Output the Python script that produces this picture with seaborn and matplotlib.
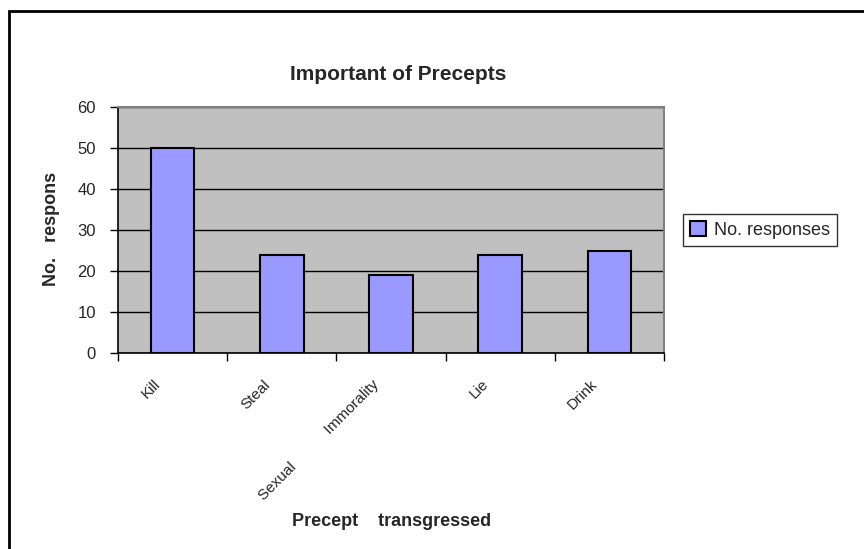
import matplotlib
matplotlib.use('Agg')
import matplotlib.pyplot as plt
import matplotlib.transforms as mtransforms
from matplotlib.patches import Rectangle
import seaborn as sns
import pandas as pd

# Chart data
precepts = ['Kill', 'Steal', 'Sexual           Immorality', 'Lie', 'Drink']
responses = [50, 24, 19, 24, 25]
y_ticks = [0, 10, 20, 30, 40, 50, 60]

df = pd.DataFrame({'Precept': precepts, 'No. responses': responses})

sns.set_style('white')
plt.rcParams['font.family'] = ['Liberation Sans', 'DejaVu Sans']

fig = plt.figure(figsize=(8.64, 5.49), dpi=100)
ax = fig.add_axes([118 / 864, 1 - 353 / 549, (664 - 118) / 864, (353 - 107) / 549])
ax.set_facecolor('#C0C0C0')

sns.barplot(data=df, x='Precept', y='No. responses', color='#9999FF', width=0.4,
            edgecolor='black', linewidth=1.5, saturation=1, ax=ax,
            label='No. responses', zorder=3)

ax.set_xlim(-0.5, 4.5)
ax.set_ylim(0, 60)
ax.set_yticks(y_ticks)
ax.set_yticklabels([str(v) for v in y_ticks], fontsize=12)
ax.yaxis.grid(True, color='black', linewidth=1, zorder=1)
ax.set_axisbelow(True)

# category boundary ticks, labels at centres
ax.set_xticks([i - 0.5 for i in range(len(precepts) + 1)], minor=True)
ax.tick_params(axis='x', which='minor', length=6, width=1, color='black', direction='out', bottom=True)
ax.tick_params(axis='x', which='major', length=0, pad=8)
ax.tick_params(axis='y', length=6, width=1, color='black', direction='out', left=True, pad=10)
ax.set_xticks(range(len(precepts)))
ax.set_xticklabels(precepts, rotation=45, ha='right', va='center', rotation_mode='anchor', fontsize=11)
offset = mtransforms.ScaledTranslation(-0.14, -0.18, fig.dpi_scale_trans)
for lbl in ax.get_xticklabels():
    lbl.set_transform(lbl.get_transform() + offset)

for side in ['left', 'bottom']:
    ax.spines[side].set_color('black')
    ax.spines[side].set_linewidth(1.2)
for side in ['top', 'right']:
    ax.spines[side].set_color('#808080')
    ax.spines[side].set_linewidth(1.5)

ax.set_xlabel('')
ax.set_ylabel('')
fig.text(398 / 864, 1 - 74 / 549, 'Important of Precepts', ha='center', va='center',
         fontsize=15, fontweight='bold')
fig.text(392 / 864, 1 - 521 / 549, 'Precept    transgressed', ha='center', va='center',
         fontsize=13, fontweight='bold')
fig.text(51 / 864, 1 - 229 / 549, 'No.   respons', ha='center', va='center',
         rotation=90, fontsize=13, fontweight='bold')

leg = ax.legend(loc='upper left', bbox_to_anchor=(683 / 864, 1 - 214 / 549),
                bbox_transform=fig.transFigure, frameon=True, fancybox=False,
                fontsize=13, handlelength=0.9, handleheight=0.9, handletextpad=0.4,
                borderpad=0.4, borderaxespad=0)
leg.get_frame().set_edgecolor('black')
leg.get_frame().set_linewidth(1)

# outer chart border
fig.patches.append(Rectangle((9 / 864, -0.1), 1.2, 1 - 11 / 549 + 0.1, transform=fig.transFigure,
                             fill=False, edgecolor='black', linewidth=2))

fig.savefig('out.png', dpi=100)
